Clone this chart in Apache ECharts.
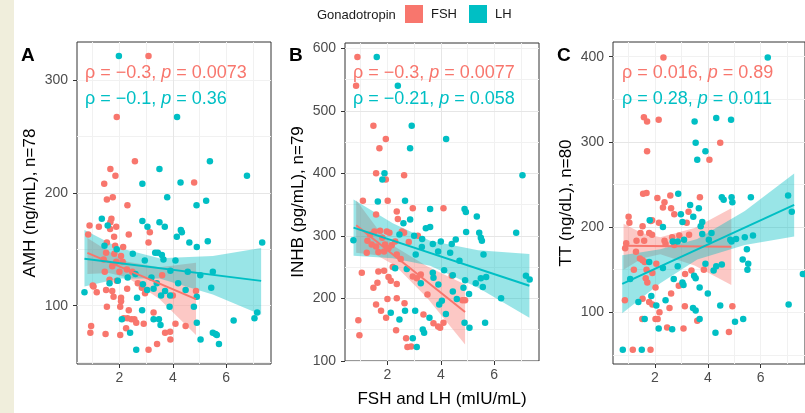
<!DOCTYPE html>
<html>
<head>
<meta charset="utf-8">
<script src="https://cdn.jsdelivr.net/npm/echarts@6/dist/echarts.min.js"></script>
<style>
  html, body { margin: 0; padding: 0; background: #fff; }
  #chart { width: 805px; height: 413px; }
</style>
</head>
<body>
<div id="chart"></div>
<script>
const FONT = 'Liberation Sans, Arial, sans-serif'
const RED = '#F8766D'
const TEAL = '#00BFC4'

// panel A : AMH
const fshA = [
  [3.09, 321], [1.9, 267], [2.58, 228], [1.66, 221], [1.85, 215], [1.43, 208], [4.8, 209], [1.53, 194], [1.75, 196], [2.3, 189],
  [1.7, 177], [1.66, 174], [0.88, 171], [1.23, 170], [1.88, 170], [1.65, 168], [3.14, 165], [1.8, 161], [2.35, 163], [3.09, 156],
  [1.53, 156], [1.84, 153], [2.14, 152], [2.06, 144], [0.83, 163], [1.5, 147], [1.41, 141], [1.81, 146], [1.88, 139], [2.12, 139],
  [1.73, 135], [1.45, 130], [2.0, 130], [2.28, 132], [2.48, 130], [1.63, 123], [1.9, 122], [1.0, 118], [3.6, 127],
  [1.03, 117], [1.15, 112], [1.5, 114], [1.73, 113], [1.78, 108], [2.06, 107], [2.06, 104], [1.53, 99], [2.03, 99], [2.35, 96],
  [2.16, 89], [2.3, 89], [2.45, 88], [2.56, 88], [2.63, 85], [2.29, 115], [2.69, 120], [2.84, 116], [2.96, 111], [3.28, 94],
  [2.91, 84], [3.09, 61], [3.41, 66], [3.71, 76], [3.9, 77], [3.91, 70], [4.1, 84], [4.48, 82], [4.87, 113], [4.0, 109],
  [0.94, 82], [0.91, 76], [1.48, 75], [2.03, 74], [2.25, 80]
]
const lhA = [
  [1.98, 321], [4.16, 267], [5.39, 228], [3.5, 221], [6.78, 215], [2.86, 208], [4.29, 209], [3.79, 196], [4.89, 189], [5.25, 193],
  [1.34, 177], [1.56, 171], [2.86, 175], [3.05, 170], [3.5, 174], [4.3, 167], [4.34, 165], [4.15, 161], [4.62, 156], [5.31, 157],
  [4.9, 152], [1.44, 153], [2.5, 146], [7.35, 156], [3.34, 147], [3.44, 147], [3.59, 145], [3.65, 141], [1.94, 122], [1.63, 120],
  [0.69, 112], [2.66, 107], [2.85, 96], [3.28, 88], [3.48, 88], [3.54, 83], [2.09, 88], [2.4, 76], [2.63, 61], [4.9, 85],
  [5.04, 70], [5.5, 76], [5.6, 75], [5.65, 74], [5.73, 66], [6.28, 87], [7.06, 89], [7.16, 94], [5.44, 116], [5.03, 127],
  [5.5, 130], [3.91, 131], [4.56, 130], [4.9, 108], [2.88, 119], [3.04, 114], [3.28, 115], [3.71, 113], [3.9, 109], [3.56, 109],
  [4.48, 114], [3.88, 99], [4.79, 99], [2.31, 125], [2.6, 128], [3.2, 125], [3.4, 120], [4.2, 120], [3.7, 170], [2.95, 140],
  [4.1, 140], [1.9, 150]
]
const fitFshA = [[0.8, 146.8], [4.87, 105.9]]
const fitLhA = [[0.69, 141.5], [7.31, 122]]
// [x, lower, upper]
const bandFshA = [[0.8, 128, 160], [1.6, 129, 148], [2.3, 125, 139], [3.5, 106, 134], [4.87, 74, 138]]
const bandLhA = [[0.69, 117, 167], [2, 124, 151], [3.5, 124, 142], [5.5, 110, 144], [7.31, 92, 151]]

// panel B : INHB
const fshB = [
  [0.875, 586], [0.825, 540], [1.475, 476], [1.94, 455], [1.7, 440], [1.575, 400], [1.94, 390], [2.625, 397], [1.08, 356], [2.01, 356],
  [2.35, 339], [2.39, 327], [2.95, 344], [4.1, 344], [1.575, 334], [3.14, 300],
  [1.25, 292], [1.225, 273], [1.51, 307], [1.725, 308], [1.81, 297], [1.91, 286], [1.975, 307], [2.075, 305], [1.575, 283], [1.66, 274],
  [1.875, 275], [2.04, 280], [2.16, 285], [2.29, 291], [2.54, 307], [2.625, 305], [2.35, 270], [2.5, 263], [1.35, 302], [1.41, 286],
  [1.04, 241], [1.475, 217], [1.625, 225], [1.66, 243], [1.875, 244], [2.04, 234], [2.125, 228], [2.35, 223], [1.575, 190], [1.76, 180],
  [2.0, 199], [2.35, 200], [2.64, 192], [1.95, 169], [2.325, 149], [0.91, 165], [0.95, 141], [2.7, 136], [2.89, 123], [3.35, 174],
  [3.725, 160], [3.975, 153], [4.1, 161], [4.91, 197], [4.81, 197], [4.41, 236], [3.5, 206], [3.1, 232], [2.95, 235], [3.25, 238],
  [2.2, 250], [2.8, 290], [2.75, 122], [3.9, 155]
]
const lhB = [
  [1.6, 586], [2.39, 540], [2.91, 476], [4.2, 455], [2.85, 440], [1.89, 400], [1.81, 390], [7.06, 397], [1.64, 355], [2.66, 356],
  [3.6, 343], [4.89, 343], [4.94, 338], [5.35, 331], [2.85, 326], [3.44, 312], [4.95, 306], [5.44, 305], [5.5, 297], [5.54, 292],
  [4.0, 291], [3.7, 287], [4.41, 287], [4.56, 294], [5.6, 270], [4.35, 273], [3.06, 270], [3.29, 282], [4.125, 245], [4.45, 237],
  [4.91, 229], [5.31, 224], [5.5, 232], [5.7, 234], [5.575, 218], [5.06, 207], [6.26, 200], [6.825, 305], [7.19, 236], [7.33, 230],
  [5.66, 161], [5.075, 153], [4.89, 161], [0.725, 293], [2.45, 302], [2.125, 177], [2.45, 166], [2.66, 180], [3.04, 180], [3.325, 150],
  [3.375, 145], [3.575, 169], [2.95, 136], [3.1, 122], [2.29, 248], [2.725, 247], [3.6, 314], [3.25, 224], [3.725, 233], [3.91, 222],
  [4.85, 217], [4.45, 211], [4.04, 196], [3.94, 190], [4.19, 175], [4.6, 199], [3.7, 241], [3.0, 300], [3.3, 295], [3.9, 275],
  [2.6, 320], [4.7, 260]
]
const fitFshB = [[0.83, 317], [4.91, 178]]
const fitLhB = [[0.73, 313], [7.32, 220]]
const bandFshB = [[0.83, 273, 357], [1.6, 269, 313], [2.3, 252, 282], [3.5, 200, 251], [4.91, 126, 222]]
const bandLhB = [[0.73, 268, 358], [2.2, 264, 320], [3.6, 252, 292], [5.4, 217, 277], [7.32, 169, 271]]

// panel C : TT
const fshC = [
  [2.32, 399], [1.58, 329], [1.7, 324], [2.14, 326], [4.47, 299], [1.7, 289], [4.06, 279], [1.55, 239], [1.68, 240], [2.09, 234],
  [2.58, 237], [2.36, 229], [2.3, 223], [2.61, 222], [2.73, 215], [3.27, 218], [3.7, 235], [1.0, 212], [1.03, 205], [1.84, 207],
  [1.89, 208], [2.15, 205], [1.53, 201], [1.45, 193], [1.78, 193], [1.89, 191], [1.3, 184], [1.59, 184], [0.91, 181], [0.87, 175],
  [2.92, 190], [3.29, 191], [2.65, 188], [2.36, 184], [2.73, 179], [1.28, 171], [1.43, 163], [1.53, 161], [1.61, 159], [1.68, 150],
  [1.65, 140], [1.71, 135], [2.05, 157], [1.9, 146], [0.86, 114],
  [1.16, 56], [1.83, 56], [1.52, 92], [2.02, 92], [2.1, 92], [2.17, 100], [2.46, 82], [3.08, 81], [2.55, 105], [2.61, 122],
  [2.9, 131], [1.78, 112], [1.9, 109], [2.02, 129], [3.13, 107], [3.6, 90], [3.38, 149], [3.14, 145], [3.85, 150], [4.93, 107],
  [4.8, 77], [1.53, 116], [3.2, 205], [2.4, 180], [1.2, 150]
]
const lhC = [
  [6.27, 399], [3.5, 324], [4.32, 328], [4.88, 326], [3.54, 299], [3.91, 289], [3.6, 279], [2.88, 239], [2.98, 215], [3.33, 226],
  [3.66, 222], [3.45, 212], [3.04, 206], [3.79, 206], [1.8, 208], [4.53, 235], [4.6, 232], [4.9, 235], [4.93, 229], [5.63, 235],
  [7.04, 237], [7.18, 218], [2.3, 200], [4.14, 193], [5.07, 186], [5.4, 188], [5.71, 190], [5.48, 174], [5.32, 162], [5.53, 157],
  [5.5, 150], [4.85, 185], [4.04, 185], [3.91, 157], [4.22, 149], [4.32, 154], [4.53, 156], [1.78, 159], [2.3, 152], [2.71, 139],
  [2.86, 154], [3.04, 135], [3.08, 132], [3.48, 143], [3.54, 140], [3.69, 129], [4.0, 122], [3.44, 105], [3.54, 102], [3.69, 92],
  [2.05, 108], [1.86, 119], [2.4, 114], [1.37, 112], [1.61, 92], [2.14, 81], [2.65, 80], [4.47, 108], [5.03, 89], [5.34, 92],
  [4.29, 76], [7.06, 109], [7.6, 145], [0.78, 56], [1.5, 56], [1.06, 139], [2.67, 183], [2.86, 183], [3.1, 185], [3.79, 192],
  [3.73, 201], [4.9, 183]
]
const fitFshC = [[0.81, 178], [4.89, 177]]
const fitLhC = [[0.76, 133.3], [7.27, 226]]
const bandFshC = [[0.81, 150, 204], [1.5, 163, 193], [2.2, 168, 188], [3.5, 155, 199], [4.89, 132, 222]]
const bandLhC = [[0.76, 99, 167], [2.2, 134, 174], [3.6, 162, 186], [5.4, 179, 219], [7.27, 189, 263]]

const xTicks = [2, 4, 6]
const yTicksA = [100, 200, 300]
const yTicksB = [100, 200, 300, 400, 500, 600]
const yTicksC = [100, 200, 300, 400]

const yTitles = ['AMH (ng/mL), n=78', 'INHB (pg/mL), n=79', 'TT (ng/dL), n=80']
const xTitle = 'FSH and LH (mIU/mL)'
const corText = [
  ['\u03c1 = \u22120.3, ', ' = 0.0073', '\u03c1 = \u22120.1, ', ' = 0.36'],
  ['\u03c1 = \u22120.3, ', ' = 0.0077', '\u03c1 = \u22120.21, ', ' = 0.058'],
  ['\u03c1 = 0.016, ', ' = 0.89', '\u03c1 = 0.28, ', ' = 0.011'],
]

const chart = echarts.init(document.getElementById('chart'))

const grids = [
  { left: 77, top: 42, width: 194, height: 322 },
  { left: 345, top: 43, width: 194, height: 321 },
  { left: 613, top: 42, width: 194, height: 322 },
]
const xRange = [0.41, 7.68]
const yRanges = [[48.4, 333.5, 6, yTicksA], [99.7, 608.4, 10, yTicksB], [39.3, 417.2, 8, yTicksC]]

const majorLine = {
  show: true,
  showMinLine: false,
  showMaxLine: false,
  lineStyle: { color: '#e6e6e6', width: 1 },
}
const minorLine = {
  show: true,
  showMinLine: false,
  showMaxLine: false,
  lineStyle: { color: '#f1f1f1', width: 1 },
}

// labelled axes (index 0..2) carry ticks, labels and major grid lines
const xAxes = grids.map((g, i) => ({
  gridIndex: i,
  type: 'value',
  min: xRange[0],
  max: xRange[1],
  splitNumber: 7,
  name: i === 1 ? xTitle : '',
  nameLocation: 'middle',
  nameGap: 30,
  nameTextStyle: { fontSize: 17, color: '#000', fontFamily: FONT },
  axisLine: { show: false },
  axisTick: { show: true, customValues: xTicks, length: 4, lineStyle: { color: '#333' } },
  axisLabel: { customValues: xTicks, color: '#4d4d4d', fontSize: 14, margin: 7, fontFamily: FONT },
  splitLine: majorLine,
  z: 1,
}))
const yAxes = grids.map((g, i) => ({
  gridIndex: i,
  type: 'value',
  min: yRanges[i][0],
  max: yRanges[i][1],
  splitNumber: yRanges[i][2],
  name: yTitles[i],
  nameLocation: 'middle',
  nameGap: 38,
  nameTextStyle: { fontSize: 17, color: '#000', fontFamily: FONT },
  axisLine: { show: false },
  axisTick: { show: true, customValues: yRanges[i][3], length: 4, lineStyle: { color: '#333' } },
  axisLabel: { customValues: yRanges[i][3], color: '#4d4d4d', fontSize: 14, margin: 9, fontFamily: FONT },
  splitLine: majorLine,
  z: 1,
}))
// unlabelled twins (index 3..5) only draw the minor grid
grids.forEach((g, i) => {
  xAxes.push({
    gridIndex: i, type: 'value', position: 'top', min: xRange[0], max: xRange[1], splitNumber: 7,
    axisLine: { show: false }, axisTick: { show: false }, axisLabel: { show: false },
    splitLine: minorLine, z: 0,
  })
  yAxes.push({
    gridIndex: i, type: 'value', position: 'right', min: yRanges[i][0], max: yRanges[i][1], splitNumber: yRanges[i][2],
    axisLine: { show: false }, axisTick: { show: false }, axisLabel: { show: false },
    splitLine: minorLine, z: 0,
  })
})

const scatter = (name, data, color, i) => ({
  name,
  type: 'scatter',
  xAxisIndex: i,
  yAxisIndex: i,
  data,
  symbolSize: 6.5,
  itemStyle: { color, opacity: 1 },
  silent: true,
})

const band = (name, data, color, i) => ({
  name,
  type: 'custom',
  xAxisIndex: i,
  yAxisIndex: i,
  data,
  encode: { x: 0, y: [1, 2] },
  clip: true,
  silent: true,
  renderItem(params, api) {
    if (params.dataIndex !== 0) {
      return
    }
    const upper = data.map((d) => api.coord([d[0], d[2]]))
    const lower = data.map((d) => api.coord([d[0], d[1]])).reverse()
    return {
      type: 'polygon',
      shape: { points: upper.concat(lower) },
      style: { fill: color, opacity: 0.4 },
    }
  },
})

const fit = (name, data, color, i) => ({
  name,
  type: 'line',
  xAxisIndex: i,
  yAxisIndex: i,
  data,
  showSymbol: false,
  silent: true,
  lineStyle: { color, width: 2 },
  itemStyle: { color },
})

const panels = [
  [fshA, lhA, bandFshA, bandLhA, fitFshA, fitLhA],
  [fshB, lhB, bandFshB, bandLhB, fitFshB, fitLhB],
  [fshC, lhC, bandFshC, bandLhC, fitFshC, fitLhC],
]

const series = []
panels.forEach((p, i) => {
  series.push(scatter('FSH', p[0], RED, i))
  series.push(scatter('LH', p[1], TEAL, i))
  series.push(band('FSH', p[2], RED, i))
  series.push(fit('FSH', p[4], RED, i))
  series.push(band('LH', p[3], TEAL, i))
  series.push(fit('LH', p[5], TEAL, i))
})

const labelLeft = [21, 289, 557]
const corLeft = [85, 353, 622]
const graphic = [
  { type: 'rect', left: 0, top: 0, shape: { width: 14, height: 413 }, style: { fill: '#f0eedc' } },
  {
    type: 'text', left: 317, top: 9,
    style: { text: 'Gonadotropin', fontSize: 13, fill: '#1a1a1a', fontFamily: FONT },
  },
]
labelLeft.forEach((x, i) => {
  graphic.push({
    type: 'text', left: x, top: 46,
    style: { text: 'ABC'[i], fontSize: 19, fontWeight: 'bold', fill: '#000', fontFamily: FONT },
  })
})
corLeft.forEach((x, i) => {
  const t = corText[i]
  const mk = (a, b, color, top) => ({
    type: 'text', left: x, top,
    z: 100,
    style: {
      text: '{a|' + a + '}{i|p}{a|' + b + '}',
      rich: {
        a: { fontSize: 18, fill: color, fontFamily: FONT },
        i: { fontSize: 18, fill: color, fontFamily: FONT, fontStyle: 'italic' },
      },
    },
  })
  graphic.push(mk(t[0], t[1], RED, 64))
  graphic.push(mk(t[2], t[3], TEAL, 90))
})

chart.setOption({
  animation: false,
  backgroundColor: '#fff',
  grid: grids.map((g) => ({ ...g, show: true, borderColor: '#333', borderWidth: 1, backgroundColor: 'transparent' })),
  legend: {
    left: 405,
    top: 5,
    padding: 0,
    icon: 'rect',
    itemWidth: 18,
    itemHeight: 18,
    itemGap: 12,
    selectedMode: false,
    textStyle: { fontSize: 13, color: '#1a1a1a', fontFamily: FONT, padding: [0, 0, 0, 3] },
    data: [
      { name: 'FSH', itemStyle: { color: RED } },
      { name: 'LH', itemStyle: { color: TEAL } },
    ],
  },
  xAxis: xAxes,
  yAxis: yAxes,
  series,
  graphic,
})
</script>
</body>
</html>
